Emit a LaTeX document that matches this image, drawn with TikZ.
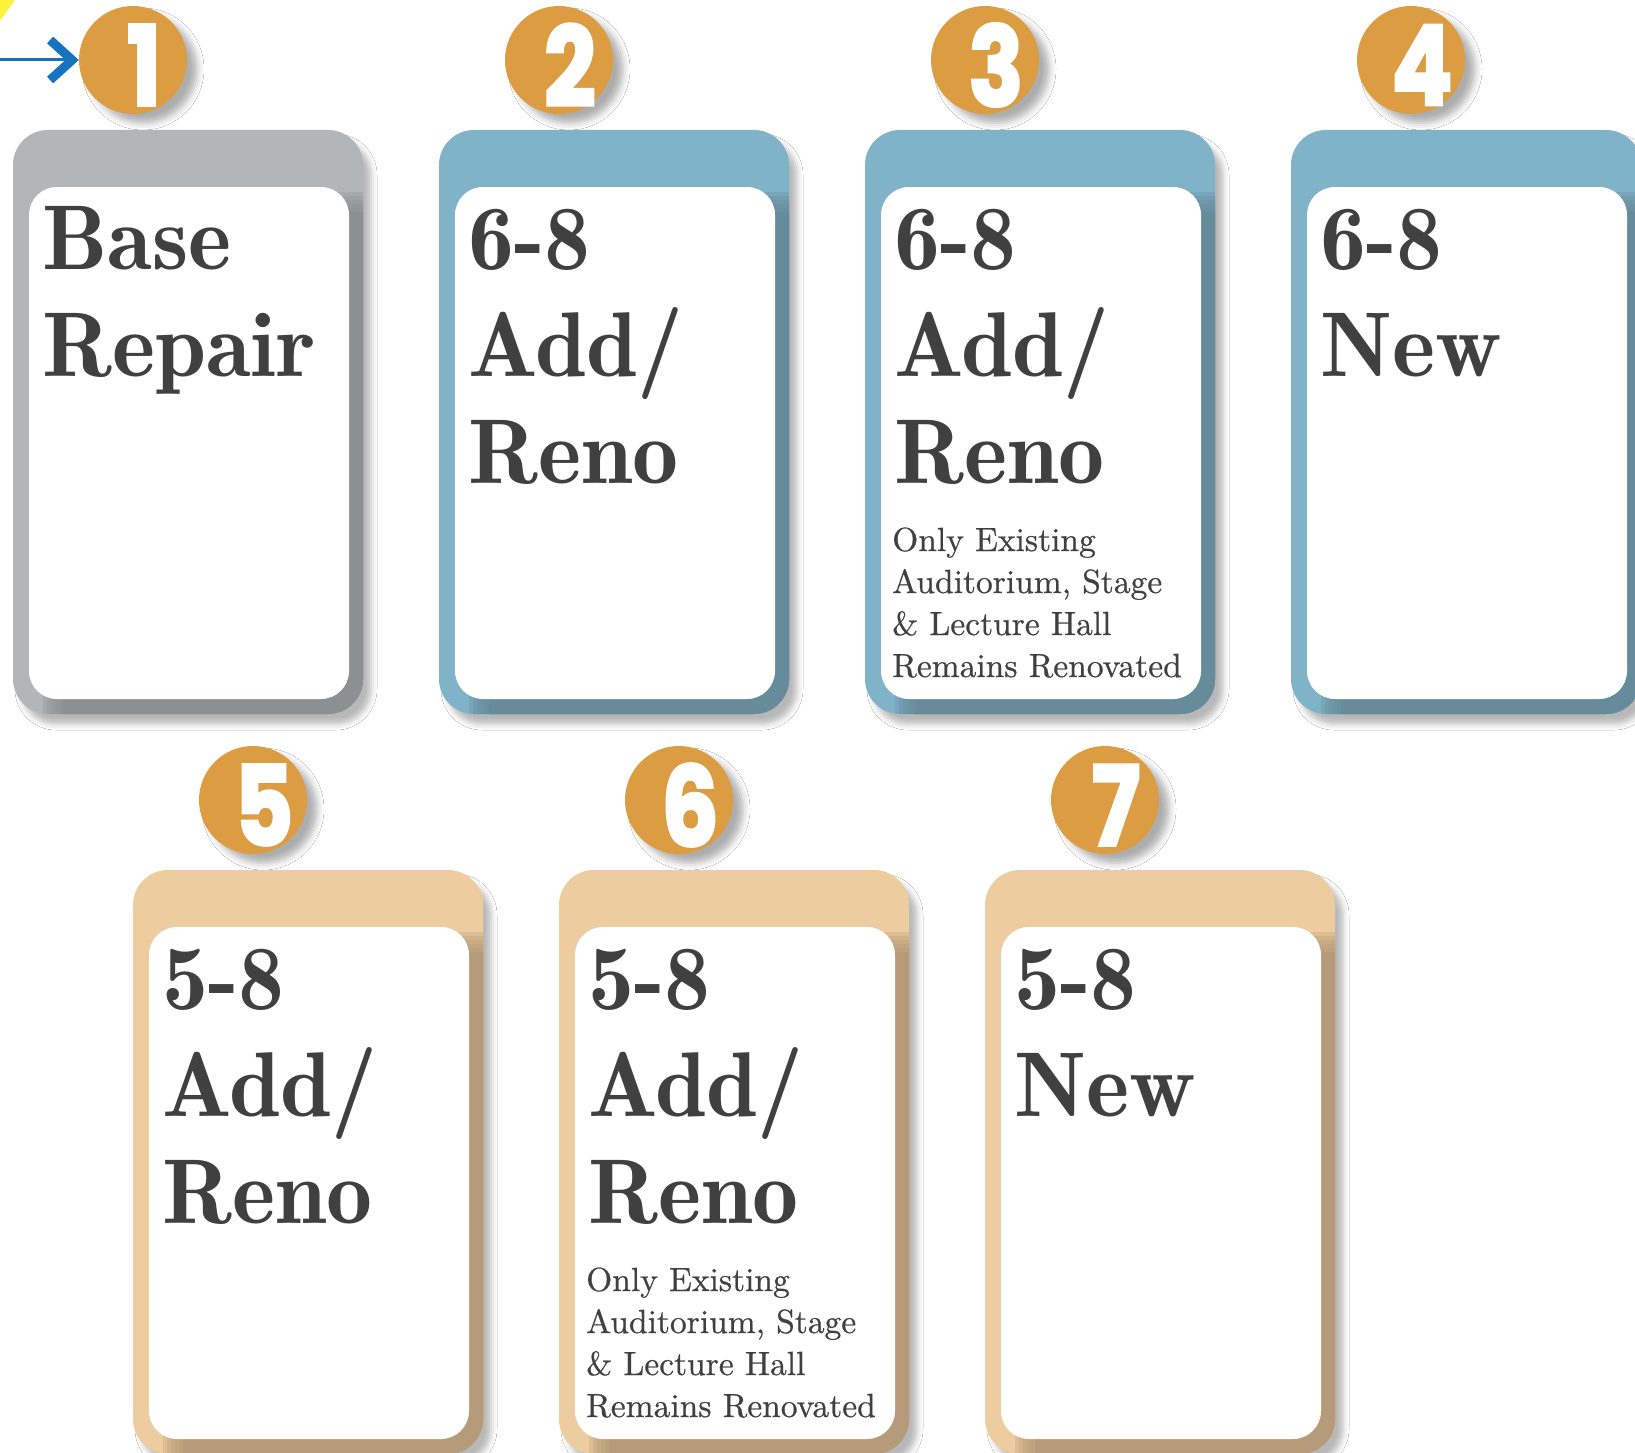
\documentclass[tikz,border=0pt]{standalone}
\usepackage{fontspec}
\newfontfamily\numfont[BoldFeatures={FakeBold=3}]{Poppins}
\newfontfamily\headfont{lmromandemi10-regular.otf}
\newfontfamily\smallfont[FakeBold=0.6]{lmroman10-regular.otf}
\usetikzlibrary{shadows.blur,arrows.meta}
\definecolor{txtgray}{HTML}{404040}
\definecolor{orng}{HTML}{DC9D42}
\definecolor{grayL}{HTML}{B4B5B7}
\definecolor{grayD}{HTML}{8E8F90}
\definecolor{blueL}{HTML}{80B3C8}
\definecolor{blueD}{HTML}{668B9B}
\definecolor{tanL}{HTML}{EDCCA0}
\definecolor{tanD}{HTML}{B59B79}
\definecolor{arrowblue}{HTML}{1673BF}
\definecolor{yel}{HTML}{FFF23A}
\tikzset{
 numcirc/.style={circle, fill=orng, minimum size=108pt, inner sep=0pt,
   blur shadow={shadow xshift=10pt, shadow yshift=-9pt, shadow blur radius=7pt, shadow opacity=32}},
 numtext/.style={text=white, inner sep=0pt, font=\numfont\bfseries\fontsize{110}{110}\selectfont},
 panel/.style={rectangle, rounded corners=28pt, fill=white, minimum width=320pt, minimum height=512pt, inner sep=0pt},
 headtext/.style={anchor=base west, inner sep=0pt, text=txtgray, font=\headfont\fontsize{92}{107}\selectfont},
 smalltext/.style={anchor=base west, inner sep=0pt, text=txtgray, font=\smallfont\fontsize{33.5}{42}\selectfont},
 arrowline/.style={draw=arrowblue, line width=3pt, -{Straight Barb[length=22pt,width=40pt,line width=9pt]}},
}
\newcommand\mkcard[5]{%
 \begin{scope}[shift={(#2,#3)}]
  \path[fill=#4, rounded corners=35pt, blur shadow={shadow xshift=8pt, shadow yshift=-10pt, shadow blur radius=6pt, shadow opacity=28}] (0,0) rectangle (350,584);
  \begin{scope}
   \clip[rounded corners=35pt] (0,0) rectangle (350,584);
   \foreach \k in {0,...,4}{
     \fill[#5, opacity=0.3, rounded corners=24pt] ({30+4*\k},{62+4*\k}) rectangle (420,660);
   }
   \fill[#5, rounded corners=24pt] (50,82) rectangle (420,660);
  \end{scope}
  \node[panel] (#1) at (176,313) {};
 \end{scope}}
\begin{document}
\begin{tikzpicture}[x=1pt,y=-1pt]
\fill[white] (0,0) rectangle (1635,1453);
\useasboundingbox (0,0) rectangle (1635,1453);
\fill[yel] (0,0) -- (15,0) -- (0,21) -- cycle;

% cards
\mkcard{p1}{13}{130}{grayL}{grayD}
\mkcard{p2}{439}{130}{blueL}{blueD}
\mkcard{p3}{865}{130}{blueL}{blueD}
\mkcard{p4}{1291}{130}{blueL}{blueD}
\mkcard{p5}{133}{870}{tanL}{tanD}
\mkcard{p6}{559}{870}{tanL}{tanD}
\mkcard{p7}{985}{870}{tanL}{tanD}

% circles
\node[numcirc] (c1) at (133,60) {};
\node[numcirc] (c2) at (559,60) {};
\node[numcirc] (c3) at (985,60) {};
\node[numcirc] (c4) at (1411,60) {};
\node[numcirc] (c5) at (253,800) {};
\node[numcirc] (c6) at (679,800) {};
\node[numcirc] (c7) at (1105,800) {};
\foreach \i in {1,...,7}{
  \node[numtext] (n\i) at ([xshift=11pt,yshift=-5pt]c\i.center) {\scalebox{0.82}[1]{\i}};
}

% arrow
\coordinate (astart) at (0,60);
\draw[arrowline] (astart) -- (c1.west);

% texts
\begin{scope}[shift={(13,130)}]
 \node[headtext] (t1a) at (29,139) {Base};
 \node[headtext] (t1b) at (29,246) {Repair};
\end{scope}
\begin{scope}[shift={(439,130)}]
 \node[headtext] (t2a) at (29,139) {6-8};
 \node[headtext] (t2b) at (29,246) {Add/};
 \node[headtext] (t2c) at (29,353) {Reno};
\end{scope}
\begin{scope}[shift={(865,130)}]
 \node[headtext] (t3a) at (29,139) {6-8};
 \node[headtext] (t3b) at (29,246) {Add/};
 \node[headtext] (t3c) at (29,353) {Reno};
 \node[smalltext] (s3a) at (27,421) {Only Existing};
 \node[smalltext] (s3b) at (27,463) {Auditorium, Stage};
 \node[smalltext] (s3c) at (27,505) {\& Lecture Hall};
 \node[smalltext] (s3d) at (27,547) {Remains Renovated};
\end{scope}
\begin{scope}[shift={(1291,130)}]
 \node[headtext] (t4a) at (29,139) {6-8};
 \node[headtext] (t4b) at (29,246) {New};
\end{scope}
\begin{scope}[shift={(133,870)}]
 \node[headtext] (t5a) at (29,139) {5-8};
 \node[headtext] (t5b) at (29,246) {Add/};
 \node[headtext] (t5c) at (29,353) {Reno};
\end{scope}
\begin{scope}[shift={(559,870)}]
 \node[headtext] (t6a) at (29,139) {5-8};
 \node[headtext] (t6b) at (29,246) {Add/};
 \node[headtext] (t6c) at (29,353) {Reno};
 \node[smalltext] (s6a) at (27,421) {Only Existing};
 \node[smalltext] (s6b) at (27,463) {Auditorium, Stage};
 \node[smalltext] (s6c) at (27,505) {\& Lecture Hall};
 \node[smalltext] (s6d) at (27,547) {Remains Renovated};
\end{scope}
\begin{scope}[shift={(985,870)}]
 \node[headtext] (t7a) at (29,139) {5-8};
 \node[headtext] (t7b) at (29,246) {New};
\end{scope}
\end{tikzpicture}
\end{document}
